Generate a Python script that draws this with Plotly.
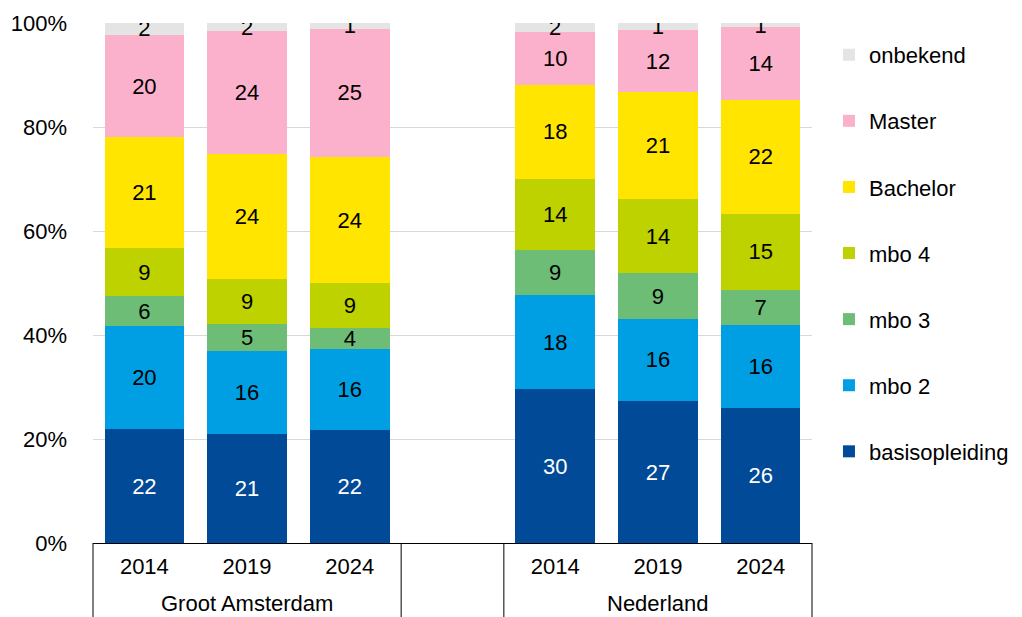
import plotly.graph_objects as go

# ---- data ----
regions = ["Groot Amsterdam", "Nederland"]
years = ["2014", "2019", "2024"]
levels = ["basisopleiding", "mbo 2", "mbo 3", "mbo 4", "Bachelor", "Master", "onbekend"]

# values per bar: GA 2014, GA 2019, GA 2024, NL 2014, NL 2019, NL 2024 (percent)
basisopleiding = [21.9, 20.9, 21.7, 29.6, 27.3, 26.0]
mbo_2 = [19.8, 16.0, 15.6, 18.1, 15.8, 16.0]
mbo_3 = [5.8, 5.2, 4.0, 8.7, 8.8, 6.7]
mbo_4 = [9.2, 8.6, 8.7, 13.6, 14.2, 14.6]
bachelor = [21.3, 24.1, 24.2, 18.1, 20.6, 21.9]
master = [19.7, 23.6, 24.7, 10.2, 11.9, 14.0]
onbekend = [2.3, 1.6, 1.1, 1.7, 1.4, 0.8]

series = [basisopleiding, mbo_2, mbo_3, mbo_4, bachelor, master, onbekend]
colors = ["#004a98", "#009fe3", "#6dbd76", "#bed200", "#ffe500", "#fbb0cb", "#e4e4e4"]
text_colors = ["white", "black", "black", "black", "black", "black", "black"]

FONT = "Liberation Sans, Arial, sans-serif"
FS = 22

slot = len(years) + 1
xpos = [r * slot + i for r in range(len(regions)) for i in range(len(years))]
nslots = len(regions) * slot - 1

fig = go.Figure()
for k, (name, vals, col, tc) in enumerate(zip(levels, series, colors, text_colors)):
    fig.add_trace(go.Bar(
        x=xpos, y=vals, name=name, legendgroup=name, legendrank=len(levels) - k,
        marker=dict(color=col, line=dict(width=0)),
        texttemplate="%{y:.0f}", textposition="inside", insidetextanchor="middle",
        textangle=0, textfont=dict(size=FS, color=tc, family=FONT),
        hovertemplate=name + ": %{y}%<extra></extra>",
    ))

shapes = []
bounds = []
for r in range(len(regions)):
    bounds += [r * slot - 0.5, r * slot + len(years) - 0.5]
for b in sorted(set(bounds)):
    xp = (b + 0.5) / nslots
    shapes.append(dict(type="line", xref="paper", yref="paper", x0=xp, x1=xp,
                       y0=0, y1=-0.2, line=dict(color="#000000", width=1), layer="above"))

annotations = []
for r, reg in enumerate(regions):
    annotations.append(dict(text=reg, x=r * slot + (len(years) - 1) / 2, xref="x",
                            y=-0.117, yref="paper", yanchor="middle", showarrow=False,
                            font=dict(size=FS, color="black", family=FONT)))

fig.update_layout(
    width=1014, height=609,
    margin=dict(l=85, r=210, t=15, b=74, autoexpand=False),
    barmode="stack", bargap=0.225,
    plot_bgcolor="white", paper_bgcolor="white",
    font=dict(family=FONT, size=FS, color="black"),
    uniformtext=dict(minsize=FS, mode="show"),
    shapes=shapes, annotations=annotations,
    legend=dict(traceorder="grouped", tracegroupgap=34.5,
                x=1.0236, xanchor="left", y=0.979, yanchor="top",
                font=dict(size=FS, color="black", family=FONT)),
    xaxis=dict(range=[-0.5, nslots - 0.5], tickmode="array", tickvals=xpos,
               ticktext=years * len(regions), showgrid=False, zeroline=False,
               showline=True, linecolor="#000000", linewidth=1, ticks="",
               automargin=False,
               ticklabelstandoff=4, tickfont=dict(size=FS, color="black")),
    yaxis=dict(range=[0, 100], dtick=20, ticksuffix="%", showgrid=True,
               gridcolor="#d9d9d9", gridwidth=1, zeroline=False, showline=False,
               ticks="", automargin=False,
               ticklabelstandoff=25, tickfont=dict(size=FS, color="black")),
)

fig.write_html("out.html")
